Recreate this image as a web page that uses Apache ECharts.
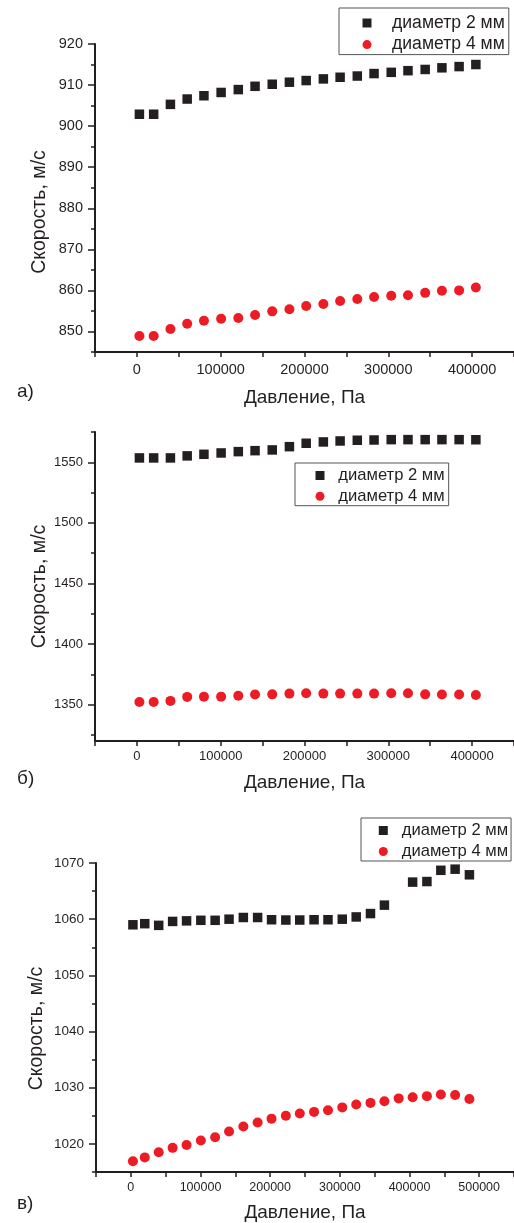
<!DOCTYPE html>
<html>
<head>
<meta charset="utf-8">
<script src="https://cdn.jsdelivr.net/npm/echarts@6/dist/echarts.min.js"></script>
<style>
  html, body { margin: 0; padding: 0; background: #fff; }
  #chart { width: 514px; height: 1223px; }
</style>
</head>
<body>
<div id="chart"></div>
<script>
// давление, Па (общая шкала для всех трёх графиков)
const pressure = [3000, 20000, 40000, 60000, 80000, 100500, 121000, 141000, 161500, 182000,
  202000, 222500, 242500, 263000, 283000, 303500, 323500, 344000, 364000, 384500,
  404500, 425000, 445000, 465500, 486000];

// а)
const speedA2 = [902.9, 902.9, 905.3, 906.6, 907.4, 908.2, 908.9, 909.7, 910.2, 910.7,
  911.1, 911.5, 911.9, 912.2, 912.8, 913.1, 913.5, 913.8, 914.2, 914.5, 915.0];
const speedA4 = [848.9, 848.9, 850.6, 851.9, 852.6, 853.1, 853.3, 854.0, 854.9, 855.4,
  856.2, 856.7, 857.4, 857.9, 858.4, 858.7, 858.8, 859.4, 859.9, 860.0, 860.7];

// б)
const speedB2 = [1553.6, 1553.6, 1553.6, 1555.3, 1556.6, 1557.7, 1558.8, 1559.6, 1560.2, 1562.9,
  1565.7, 1566.8, 1567.6, 1568.2, 1568.4, 1568.7, 1568.7, 1568.7, 1568.7, 1568.7, 1568.6];
const speedB4 = [1352.2, 1352.2, 1353.1, 1356.4, 1356.6, 1356.6, 1357.4, 1358.3, 1358.5, 1359.1,
  1359.4, 1359.1, 1359.1, 1359.1, 1359.1, 1359.4, 1359.4, 1358.5, 1358.3, 1358.3, 1358.0];

// в)
const speedC2 = [1059.0, 1059.2, 1058.9, 1059.6, 1059.7, 1059.8, 1059.8, 1060.0, 1060.3, 1060.3,
  1059.9, 1059.85, 1059.85, 1059.9, 1059.9, 1060.0, 1060.4, 1061.0, 1062.5, null,
  1066.6, 1066.7, 1068.7, 1068.9, 1067.9];
const speedC4 = [1016.9, 1017.6, 1018.5, 1019.3, 1019.8, 1020.6, 1021.2, 1022.2, 1023.1, 1023.8,
  1024.5, 1025.0, 1025.4, 1025.7, 1026.0, 1026.5, 1027.0, 1027.3, 1027.6, 1028.1,
  1028.3, 1028.5, 1028.8, 1028.7, 1028.0];

// подписи осей
const yMajorA = [850, 860, 870, 880, 890, 900, 910, 920];
const yMinorA = [845, 855, 865, 875, 885, 895, 905, 915];
const yMajorB = [1350, 1400, 1450, 1500, 1550];
const yMinorB = [1325, 1375, 1425, 1475, 1525, 1575];
const yMajorC = [1020, 1030, 1040, 1050, 1060, 1070];
const yMinorC = [1015, 1025, 1035, 1045, 1055, 1065];
const xLabelsAB = [0, 100000, 200000, 300000, 400000];
const xLabelsC = [0, 100000, 200000, 300000, 400000, 500000];

const name2 = 'диаметр 2 мм';
const name4 = 'диаметр 4 мм';
const black = '#231f20';
const red = '#ed1c24';
const font = "'Liberation Sans', Arial, sans-serif";
const squarePath = 'path://M0,0H10V10H0Z';

const pairs = (xs, ys) => ys.map((y, i) => (y == null ? null : [xs[i], y])).filter(Boolean);

const chart = echarts.init(document.getElementById('chart'), null, { renderer: 'canvas' });

const xAxisCfg = (grid, max, labels, fontSize, margin, nameGap) => ({
  type: 'value',
  gridIndex: grid,
  min: -50000,
  max: max,
  interval: 50000,
  name: 'Давление, Па',
  nameLocation: 'middle',
  nameGap: nameGap,
  nameMoveOverlap: false,
  nameTextStyle: { fontFamily: font, fontSize: 19, color: black },
  axisLine: { onZero: false, lineStyle: { color: black, width: 2 } },
  axisTick: { length: 5, lineStyle: { color: black, width: 1.5 } },
  axisLabel: {
    customValues: labels,
    formatter: v => (v >= 0 && v % 100000 === 0 ? String(v) : ''),
    fontFamily: font, fontSize: fontSize, color: black, margin: margin
  },
  splitLine: { show: false }
});

const yMajorCfg = (grid, min, max, ticks, fontSize, nameGap, shift) => ({
  type: 'value',
  gridIndex: grid,
  position: 'left',
  min: min,
  max: max,
  name: 'Скорость, м/с',
  nameLocation: 'middle',
  nameGap: nameGap,
  nameMoveOverlap: false,
  nameTextStyle: { fontFamily: font, fontSize: 19.5, color: black, padding: [0, shift, 0, 0] },
  axisLine: { onZero: false, lineStyle: { color: black, width: 2 } },
  axisTick: { customValues: ticks, length: 7, lineStyle: { color: black, width: 1.5 } },
  axisLabel: {
    customValues: ticks,
    formatter: v => String(v),
    fontFamily: font, fontSize: fontSize, color: black, margin: 12
  },
  splitLine: { show: false }
});

const yMinorCfg = (grid, min, max, ticks) => ({
  type: 'value',
  gridIndex: grid,
  position: 'left',
  min: min,
  max: max,
  axisLine: { show: false, onZero: false },
  axisTick: { customValues: ticks, length: 4, lineStyle: { color: black, width: 1.5 } },
  axisLabel: { show: false },
  splitLine: { show: false }
});

const legendCfg = (left, top, padding, textPad, fontSize, lineHeight, gap) => ({
  orient: 'vertical',
  left: left,
  top: top,
  padding: padding,
  itemWidth: 9,
  itemHeight: 9,
  itemGap: gap,
  borderColor: '#555',
  borderWidth: 1,
  backgroundColor: '#fff',
  selectedMode: false,
  textStyle: {
    fontFamily: font, fontSize: fontSize, lineHeight: lineHeight, color: black,
    padding: [0, 0, 0, textPad]
  },
  data: [
    { name: name2, icon: squarePath, itemStyle: { color: black } },
    { name: name4, icon: 'circle', itemStyle: { color: red } }
  ]
});

const scatter = (name, grid, yIdx, data, symbol, color, size) => ({
  type: 'scatter',
  name: name,
  xAxisIndex: grid,
  yAxisIndex: yIdx,
  symbol: symbol,
  symbolSize: size,
  itemStyle: { color: color, opacity: 1 },
  emphasis: { disabled: true },
  data: data
});

const panelLabel = (text, top) => ({
  text: text,
  left: 12,
  top: top,
  textStyle: { fontFamily: font, fontSize: 19, fontWeight: 'normal', color: black }
});

chart.setOption({
  animation: false,
  backgroundColor: '#fff',
  title: [
    panelLabel('а)', 377),
    panelLabel('б)', 764),
    panelLabel('в)', 1189)
  ],
  legend: [
    legendCfg(339, 8, [5, 4, 0, 23.5], 15.5, 17.6, 20, 1.6),
    legendCfg(295, 463, [3, 4, 0, 20.5], 8.8, 16.6, 19, 1.7),
    legendCfg(361, 818, [3, 3, 0, 17.8], 8.9, 16.6, 19, 2)
  ],
  grid: [
    { left: 95, top: 44, width: 421, height: 308 },
    { left: 95, top: 432, width: 421, height: 309 },
    { left: 96, top: 863, width: 420, height: 309 }
  ],
  xAxis: [
    xAxisCfg(0, 450000, xLabelsAB, 14.5, 10, 36),
    xAxisCfg(1, 450000, xLabelsAB, 13, 9, 32),
    xAxisCfg(2, 550000, xLabelsC, 12.5, 9, 31)
  ],
  yAxis: [
    yMajorCfg(0, 845, 920, yMajorA, 14.5, 45, 28),
    yMinorCfg(0, 845, 920, yMinorA),
    yMajorCfg(1, 1320, 1575, yMajorB, 13, 45, 0),
    yMinorCfg(1, 1320, 1575, yMinorB),
    yMajorCfg(2, 1015, 1070, yMajorC, 13.5, 49, 22),
    yMinorCfg(2, 1015, 1070, yMinorC)
  ],
  series: [
    scatter(name2, 0, 0, pairs(pressure, speedA2), squarePath, black, 9.5),
    scatter(name4, 0, 0, pairs(pressure, speedA4), 'circle', red, 10),
    scatter(name2, 1, 2, pairs(pressure, speedB2), squarePath, black, 9.5),
    scatter(name4, 1, 2, pairs(pressure, speedB4), 'circle', red, 10),
    scatter(name2, 2, 4, pairs(pressure, speedC2), squarePath, black, 9.5),
    scatter(name4, 2, 4, pairs(pressure, speedC4), 'circle', red, 10)
  ]
});
</script>
</body>
</html>
